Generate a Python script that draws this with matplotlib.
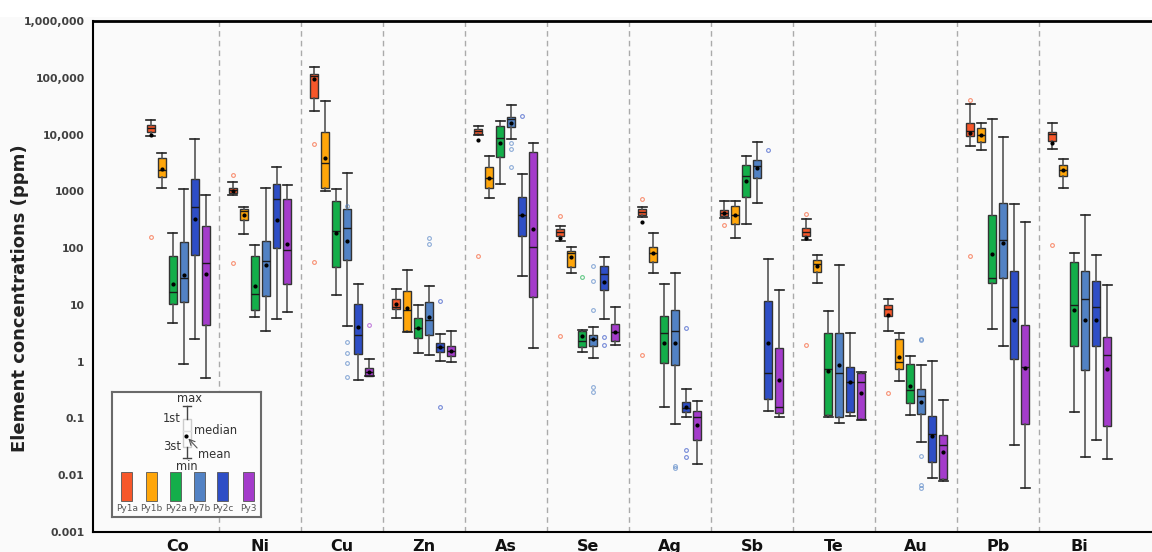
import numpy as np
import matplotlib.pyplot as plt
from matplotlib.ticker import NullLocator
from matplotlib.patches import Rectangle

ELEMENTS = ['Co', 'Ni', 'Cu', 'Zn', 'As', 'Se', 'Ag', 'Sb', 'Te', 'Au', 'Pb', 'Bi']
SERIES = ['Py1a', 'Py1b', 'Py2a', 'Py2b', 'Py2c', 'Py3']
LEGEND_LABELS = ['Py1a', 'Py1b', 'Py2a', 'Py7b', 'Py2c', 'Py3']
COLORS = ['#F7572A', '#FFA60A', '#14AE4A', '#5282C4', '#2E4EC6', '#A43CCB']
YTICKS = [0.001, 0.01, 0.1, 1, 10, 100, 1000, 10000, 100000, 1000000]
YTICK_LABELS = ['0.001', '0.01', '0.1', '1', '10', '100', '1000',
                '10,000', '100,000', '1,000,000']

# rows per element: whisker low, q1, median, q3, whisker high, mean (ppm)
PY1A = [[9450, 11100, 13060, 14750, 18000, 9800],
        [875, 923, 1045, 1130, 1460, 1000],
        [25700, 44000, 106000, 117000, 155000, 95000],
        [5.9, 8.4, 9.3, 12.9, 18.9, 10.4],
        [9700, 10400, 11600, 12700, 14000, 7900],
        [134, 164, 190, 218, 249, 148],
        [349, 384, 440, 483, 538, 289],
        [340, 369, 417, 464, 678, 417],
        [138, 164, 193, 224, 327, 150],
        [3.53, 6.4, 8.5, 9.9, 12.9, 6.7],
        [6300, 9450, 11600, 15800, 34100, 10500],
        [5660, 7620, 10250, 11100, 15800, 7200]]
PY1B = [[1150, 1790, 2380, 3870, 4740, 2480],
        [175, 313, 457, 483, 525, 379],
        [1015, 1130, 3120, 11000, 39500, 3930],
        [3.3, 3.4, 8.05, 17.6, 41.3, 8.7],
        [776, 1130, 1740, 2650, 4150, 1740],
        [36, 47, 81, 90, 106, 69],
        [37, 58, 81, 106, 182, 81],
        [151, 267, 379, 561, 687, 390],
        [24.1, 38.6, 52, 62, 75, 48.6],
        [0.46, 0.74, 1.0, 2.49, 3.17, 1.2],
        [5350, 7320, 9840, 13200, 15800, 9840],
        [1130, 1870, 2380, 2920, 3770, 2380]]
PY2A = [[4.8, 10.4, 16.9, 73, 185, 23.4],
        [6.15, 8.05, 15.6, 74, 114, 21.6],
        [15.2, 46, 198, 687, 1090, 183],
        [1.4, 2.6, 3.9, 5.9, 10.1, 3.9],
        [1330, 3980, 8700, 14200, 17100, 7110],
        [1.5, 1.8, 2.32, 3.53, 3.6, 2.88],
        [0.162, 0.94, 3.17, 6.4, 23.1, 2.11],
        [270, 787, 1870, 2950, 4250, 1510],
        [0.104, 0.116, 0.757, 3.17, 7.8, 0.69],
        [0.116, 0.186, 0.319, 0.90, 1.25, 0.38],
        [3.83, 24, 29.5, 380, 18800, 79],
        [0.132, 1.85, 10, 56, 83, 8.2]]
PY2B = [[0.91, 11.3, 29.9, 128, 1100, 33.7],
        [3.4, 14.6, 58.7, 132, 1150, 51],
        [4.3, 61, 230, 483, 2080, 136],
        [1.33, 2.9, 5.4, 11.1, 21.9, 6.2],
        [8260, 13600, 18600, 20100, 33600, 16200],
        [1.15, 1.92, 2.55, 2.96, 4.15, 2.55],
        [0.079, 0.88, 3.48, 8.2, 36, 2.14],
        [634, 1745, 2840, 3530, 7310, 2580],
        [0.083, 0.107, 0.63, 3.17, 50.6, 0.867],
        [0.0387, 0.12, 0.25, 0.332, 0.88, 0.193],
        [1.9, 29.5, 139, 632, 8950, 124],
        [0.0208, 0.72, 12.8, 39.7, 380, 5.45]]
PY2C = [[2.5, 76, 531, 1650, 8370, 327],
        [5.7, 102, 735, 1350, 2720, 313],
        [0.48, 1.36, 2.9, 10.4, 23.7, 4.0],
        [1.03, 1.47, 1.8, 2.14, 3.04, 1.8],
        [32.8, 164, 380, 797, 2020, 380],
        [5.7, 18.4, 34.7, 49, 71, 25.7],
        [0.104, 0.129, 0.155, 0.193, 0.332, 0.158],
        [0.136, 0.218, 0.63, 11.6, 63.7, 2.14],
        [0.111, 0.132, 0.447, 0.82, 3.17, 0.44],
        [0.0089, 0.017, 0.0536, 0.112, 1.03, 0.05],
        [0.0343, 1.13, 9.1, 39.2, 600, 5.4],
        [0.042, 1.85, 9.1, 26.8, 77, 5.45]]
PY3 = [[0.52, 4.5, 54.8, 246, 865, 35],
       [7.4, 23, 93, 726, 1310, 117],
       [0.55, 0.56, 0.67, 0.78, 1.13, 0.67],
       [0.98, 1.25, 1.57, 1.9, 3.5, 1.57],
       [1.75, 13.5, 106, 5000, 7020, 218],
       [1.98, 2.3, 3.3, 4.6, 9.0, 3.3],
       [0.0159, 0.041, 0.104, 0.136, 0.199, 0.076],
       [0.104, 0.124, 0.158, 1.77, 18.4, 0.466],
       [0.095, 0.097, 0.44, 0.63, 0.65, 0.279],
       [0.0078, 0.0085, 0.0343, 0.0508, 0.21, 0.026],
       [0.0059, 0.081, 0.82, 4.45, 285, 0.77],
       [0.0192, 0.074, 1.3, 2.7, 22.8, 0.74]]

# outliers (ppm)
FLIERS = {
    'Py1a': {'Co': [157], 'Ni': [1920, 54], 'Cu': [6750, 57], 'As': [73],
             'Se': [369, 2.88], 'Ag': [727, 1.3], 'Sb': [253],
             'Te': [405, 1.98], 'Au': [0.279], 'Pb': [40100, 73.8], 'Bi': [115]},
    'Py1b': {},
    'Py2a': {'Se': [31.5]},
    'Py2b': {'Cu': [546, 2.26, 1.43, 0.94, 0.53], 'Zn': [151, 116],
             'As': [7020, 5660, 2720], 'Se': [48.6, 26.1, 8.05, 0.365, 0.29],
             'Ag': [0.0143, 0.0134], 'Au': [2.52, 2.4, 0.022, 0.0068, 0.0059]},
    'Py2c': {'Zn': [11.5, 0.158], 'As': [21500], 'Se': [2.77, 2.0],
             'Ag': [3.94, 0.028, 0.0208], 'Sb': [5350]},
    'Py3': {'Cu': [4.45]},
}

STEP = 11 / 82.0    # spacing of boxes inside a group
BOX_W = 8 / 82.0

fig = plt.figure(figsize=(11.52, 5.52), dpi=100, facecolor='#FAFAFA')
fig.patches.append(Rectangle((0, 1 - 17 / 552), 1, 17 / 552, transform=fig.transFigure,
                             facecolor='white', edgecolor='none', zorder=0))
ax = fig.add_axes([93 / 1152, 20 / 552, 1 - 93 / 1152, 511 / 552])
ax.set_facecolor('#FAFAFA')

all_rows = [PY1A, PY1B, PY2A, PY2B, PY2C, PY3]
x = np.arange(len(ELEMENTS))
for k, (name, rows) in enumerate(zip(SERIES, all_rows)):
    stats = []
    for el, r in zip(ELEMENTS, rows):
        stats.append(dict(whislo=r[0], q1=r[1], med=r[2], q3=r[3], whishi=r[4],
                          mean=r[5], fliers=FLIERS[name].get(el, [])))
    ax.bxp(stats, positions=x + (k - 2.5) * STEP, widths=BOX_W,
           capwidths=BOX_W * 1.1, patch_artist=True, showmeans=True,
           boxprops=dict(facecolor=COLORS[k], edgecolor='#333333', lw=1.0),
           medianprops=dict(color='#1a1a1a', lw=1.0),
           whiskerprops=dict(color='#555555', lw=1.2),
           capprops=dict(color='#222222', lw=1.2),
           meanprops=dict(marker='o', markersize=2.0, markerfacecolor='k',
                          markeredgecolor='k'),
           flierprops=dict(marker='o', markersize=2.7, markerfacecolor='none',
                           markeredgecolor=COLORS[k], markeredgewidth=0.8, alpha=0.65),
           zorder=3)

for xs in x[:-1] + 0.5:
    ax.axvline(xs, color='#AAAAAA', ls=(0, (4, 3)), lw=1.0, zorder=1)

ax.set_yscale('log')
ax.set_ylim(0.001, 1000000)
ax.set_xlim(-1.037, 11.88)
ax.set_yticks(YTICKS)
ax.set_yticklabels(YTICK_LABELS)
ax.yaxis.set_minor_locator(NullLocator())
ax.set_xticks(x)
ax.set_xticklabels(ELEMENTS)
ax.tick_params(axis='y', length=0, pad=6, labelsize=7.8, labelcolor='#404040')
ax.tick_params(axis='x', length=0, pad=5, labelsize=11.5, labelcolor='#111111')
for lab in ax.get_xticklabels() + ax.get_yticklabels():
    lab.set_fontweight('bold')

ax.spines['right'].set_visible(False)
ax.spines['top'].set_linewidth(2)
ax.spines['left'].set_linewidth(1.5)
ax.spines['bottom'].set_linewidth(1.5)

fig.text(20 / 1152, 1 - 298 / 552, 'Element concentrations (ppm)', rotation=90,
         ha='center', va='center', fontsize=13, fontweight='bold', color='#222222')

# legend panel drawn in image pixel coordinates
lg = fig.add_axes([112 / 1152, 1 - 517 / 552, 149 / 1152, 125 / 552])
lg.set_xlim(112, 261)
lg.set_ylim(517, 392)
lg.set_xticks([])
lg.set_yticks([])
lg.set_facecolor('#FCFCFC')
for s in lg.spines.values():
    s.set_edgecolor('#6a6a6a')
    s.set_linewidth(1.5)

bx = 187
lg.plot([bx - 4, bx + 4], [405.7, 405.7], color='#444', lw=1)
lg.plot([bx, bx], [405.7, 419], color='#444', lw=1)
lg.add_patch(Rectangle((bx - 4, 419), 8, 28, facecolor='none', edgecolor='#cccccc', lw=1))
lg.plot([bx - 4, bx + 4], [431, 431], color='#dddddd', lw=1)
lg.plot([bx, bx], [447, 458], color='#444', lw=1)
lg.plot([bx - 4, bx + 4], [458, 458], color='#444', lw=1)
lg.plot([bx - 1], [436], marker='o', ms=2, color='k')
lg.annotate('', xy=(bx - 0.5, 436.5), xytext=(199, 450),
            arrowprops=dict(arrowstyle='->', color='#555', lw=0.8))
tk = dict(fontsize=8.3, color='#333333')
lg.text(bx + 2, 399, 'max', ha='center', va='center', **tk)
lg.text(181, 419, '1st', ha='right', va='center', **tk)
lg.text(194, 431, 'median', ha='left', va='center', **tk)
lg.text(181, 446, '3st', ha='right', va='center', **tk)
lg.text(198, 455, 'mean', ha='left', va='center', **tk)
lg.text(bx, 466, 'min', ha='center', va='center', **tk)

sw_x = [126.7, 151, 175.7, 199, 222.7, 248.7]
for cx, col, lab in zip(sw_x, COLORS, LEGEND_LABELS):
    lg.add_patch(Rectangle((cx - 5.5, 471.7), 11, 29, facecolor=col,
                           edgecolor='#555555', lw=0.6))
    lg.text(cx, 508.5, lab, ha='center', va='center', fontsize=6.5, color='#555555')

fig.savefig('out.png', dpi=100, facecolor=fig.get_facecolor())
